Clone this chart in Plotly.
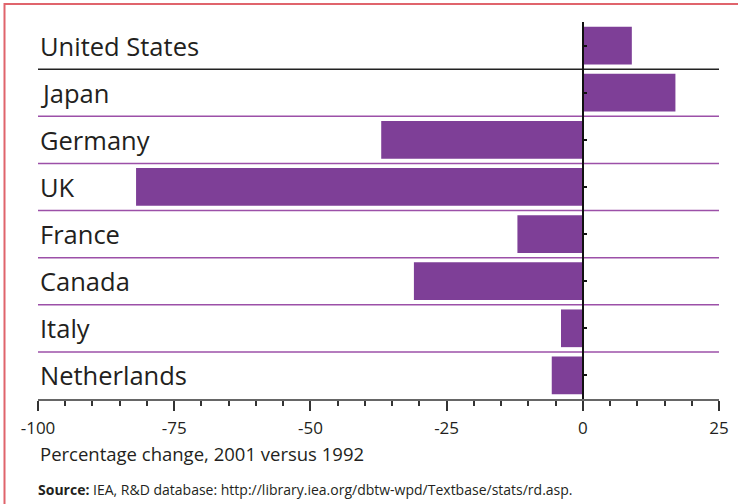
import plotly.graph_objects as go

# R&D spending change by country
countries = ["United States", "Japan", "Germany", "UK", "France", "Canada", "Italy", "Netherlands"]
pct_change = [9.0, 17.0, -37.0, -82.0, -12.0, -31.0, -4.0, -5.7]

tick_vals = [-100, -75, -50, -25, 0, 25]
tick_text = ["-100", "-75", "-50", "-25", "0", "25"]

BAR = "#7e3f97"
SEP_PURPLE = "#9c50a8"
TEXT = "#231f20"
FONT = "Open Sans"

W, H = 738, 504
ML, MR, MT, MB = 38, 19, 22, 105
pw, ph = W - ML - MR, H - MT - MB

def px_x(p):
    return (p - ML) / pw

def px_y(p):
    return (H - MB - p) / ph

fig = go.Figure()
fig.add_trace(go.Bar(
    x=pct_change, y=countries, orientation="h",
    marker=dict(color=BAR, line=dict(width=0)),
    width=0.8, hoverinfo="x+y",
))

shapes = []
# row separators
for i in range(len(countries) - 1):
    shapes.append(dict(
        type="line", xref="x", yref="y",
        x0=-100, x1=25, y0=i + 0.5, y1=i + 0.5,
        line=dict(color="#222222" if i == 0 else SEP_PURPLE, width=1.5),
        layer="below",
    ))
# outer frame (left and top edges)
shapes.append(dict(
    type="path", xref="paper", yref="paper",
    path=f"M {px_x(4.5)} {px_y(504)} L {px_x(4.5)} {px_y(4)} L {px_x(738)} {px_y(4)}",
    line=dict(color="#e0646c", width=2),
))

annotations = []
for c in countries:
    annotations.append(dict(
        x=-100, y=c, xref="x", yref="y", text=c, showarrow=False,
        xanchor="left", yanchor="middle", xshift=0,
        font=dict(family=FONT, size=25.5, color=TEXT),
    ))
annotations.append(dict(
    x=-100, y=0, xref="x", yref="paper", yanchor="middle", xanchor="left",
    yshift=-54, showarrow=False,
    text="Percentage change, 2001 versus 1992",
    font=dict(family=FONT, size=18.5, color=TEXT),
))
annotations.append(dict(
    x=px_x(36), y=0, xref="paper", yref="paper", yanchor="middle", xanchor="left",
    yshift=-90, showarrow=False,
    text="<b>Source:</b> IEA, R&amp;D database: http://library.iea.org/dbtw-wpd/Textbase/stats/rd.asp.",
    font=dict(family=FONT, size=14, color=TEXT),
))

fig.update_layout(
    width=W, height=H,
    margin=dict(l=ML, r=MR, t=MT, b=MB, pad=0, autoexpand=False),
    paper_bgcolor="white", plot_bgcolor="white",
    showlegend=False, bargap=0.2,
    shapes=shapes, annotations=annotations,
    xaxis=dict(
        range=[-100, 25], tickvals=tick_vals, ticktext=tick_text,
        automargin=False,
        showgrid=False, zeroline=False,
        showline=True, linecolor="#666666", linewidth=1.5,
        ticks="outside", ticklen=10, tickwidth=1.5, tickcolor="#333333",
        ticklabelstandoff=3,
        tickfont=dict(family=FONT, size=17, color=TEXT),
        minor=dict(dtick=5, tick0=-100, ticks="outside", ticklen=5,
                   tickwidth=1.5, tickcolor="#333333", showgrid=False),
    ),
    yaxis=dict(
        categoryorder="array", categoryarray=countries,
        range=[len(countries) - 0.5, -0.5],
        automargin=False,
        showgrid=False, zeroline=False, showticklabels=False,
        anchor="free", position=100 / 125,
        showline=True, linecolor="#111111", linewidth=2,
        ticks="inside", ticklen=3, tickwidth=1.5, tickcolor="#111111",
    ),
)

fig.write_html("out.html")
